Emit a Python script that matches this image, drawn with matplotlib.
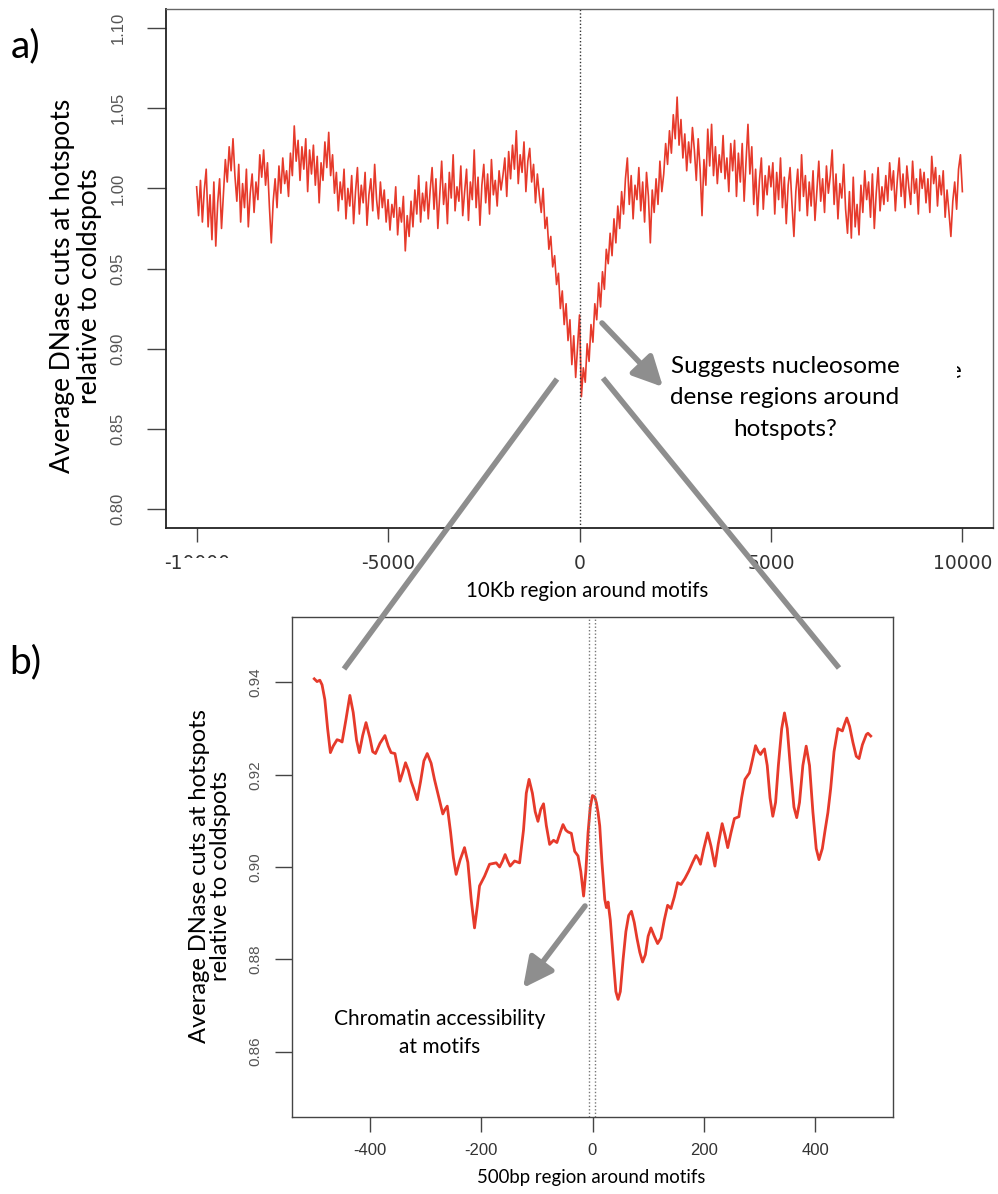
import matplotlib
matplotlib.use("Agg")
import matplotlib.pyplot as plt
from matplotlib.lines import Line2D
from matplotlib.patches import FancyArrowPatch, Rectangle
import numpy as np

# ---- panel a: 10Kb window, one value every 50bp ----
a_start, a_step = -10000, 50
a_values = [
    1.001, 0.983, 1.005, 0.979, 0.999, 1.012, 0.976, 0.996, 0.968, 1.004, 0.964, 0.991, 1.006, 0.975, 0.997, 1.018, 1.004, 1.026, 1.011, 1.031,
    1.008, 0.992, 1.015, 0.979, 1.003, 0.988, 1.012, 0.976, 0.997, 1.009, 0.985, 1.004, 0.993, 1.021, 1.007, 1.024, 1.002, 1.016, 0.989, 0.966,
    0.992, 1.006, 0.988, 1.014, 0.997, 1.019, 1.003, 1.011, 0.995, 1.022, 1.008, 1.039, 1.017, 1.030, 1.005, 1.026, 1.012, 1.031, 0.998, 1.024,
    1.009, 1.027, 1.002, 1.020, 0.991, 1.016, 1.005, 1.029, 1.013, 1.035, 1.008, 1.021, 0.997, 1.010, 0.986, 1.004, 0.993, 1.012, 0.981, 1.000,
    0.989, 1.008, 0.978, 0.998, 1.013, 0.984, 1.002, 0.991, 1.010, 0.977, 0.996, 1.006, 0.986, 1.015, 0.993, 0.981, 1.004, 0.988, 0.999, 0.979,
    0.993, 0.974, 0.990, 0.982, 1.001, 0.971, 0.988, 0.979, 0.995, 0.961, 0.983, 0.970, 0.992, 0.976, 0.999, 0.984, 1.008, 0.979, 0.997, 0.986,
    1.004, 0.981, 0.999, 1.013, 0.987, 1.006, 0.975, 0.996, 1.017, 0.990, 1.003, 0.978, 1.010, 0.994, 1.021, 0.986, 1.001, 0.992, 1.014, 0.983,
    0.998, 1.012, 0.980, 1.004, 0.993, 1.024, 0.988, 1.007, 0.977, 1.002, 1.015, 0.991, 1.009, 0.984, 1.018, 0.996, 1.005, 0.989, 1.011, 0.999,
    1.008, 1.019, 0.995, 1.023, 1.006, 1.027, 1.012, 1.036, 1.003, 1.021, 1.010, 1.029, 0.998, 1.017, 1.025, 1.004, 1.015, 0.991, 1.009, 0.996,
    0.985, 1.000, 0.975, 0.982, 0.962, 0.970, 0.951, 0.958, 0.940, 0.947, 0.925, 0.936, 0.915, 0.928, 0.905, 0.918, 0.890, 0.908, 0.882, 0.902,
    0.921, 0.870, 0.888, 0.879, 0.903, 0.892, 0.915, 0.904, 0.928, 0.918, 0.941, 0.926, 0.948, 0.937, 0.962, 0.953, 0.972, 0.958, 0.981, 0.966,
    0.989, 0.975, 0.998, 0.984, 1.006, 1.019, 0.990, 1.008, 0.981, 1.002, 0.993, 1.013, 0.986, 1.004, 0.979, 1.010, 0.995, 0.966, 0.999, 0.985,
    1.006, 0.990, 1.017, 0.998, 1.009, 1.028, 1.015, 1.036, 1.022, 1.046, 1.031, 1.057, 1.027, 1.043, 1.019, 1.034, 1.011, 1.029, 1.016, 1.038,
    1.024, 1.005, 1.031, 1.012, 0.983, 1.018, 1.002, 1.037, 1.014, 1.040, 1.008, 1.026, 1.003, 1.021, 1.010, 1.033, 1.006, 1.019, 0.998, 1.028,
    1.011, 1.030, 0.995, 1.022, 1.004, 1.028, 0.992, 1.017, 1.040, 1.009, 1.026, 0.990, 1.012, 0.983, 1.005, 1.019, 0.987, 1.008, 0.996, 1.014,
    1.001, 1.016, 0.984, 1.010, 0.993, 1.019, 0.988, 1.007, 0.978, 1.002, 1.013, 0.990, 0.970, 0.998, 1.012, 0.986, 1.021, 0.995, 1.008, 0.983,
    1.004, 0.989, 1.011, 0.980, 0.999, 1.017, 0.992, 1.006, 0.985, 1.014, 0.997, 1.008, 1.024, 0.990, 1.009, 0.981, 1.003, 0.994, 1.015, 0.987,
    0.972, 0.998, 0.969, 1.007, 0.976, 0.990, 0.971, 1.002, 0.985, 1.011, 0.993, 1.004, 0.982, 1.009, 0.975, 0.997, 1.013, 0.986, 1.001, 0.990,
    1.008, 0.992, 1.016, 0.999, 1.011, 0.986, 1.005, 1.019, 0.995, 1.009, 0.988, 1.014, 1.001, 0.990, 1.017, 0.997, 1.006, 0.984, 1.012, 1.000,
    1.010, 0.991, 1.006, 0.985, 1.020, 1.003, 1.013, 0.989, 1.008, 0.996, 1.011, 0.982, 0.999, 0.985, 0.970, 0.992, 1.004, 0.987, 1.012, 1.021,
    0.998,
]
a_pos = a_start + a_step * np.arange(len(a_values))

# ---- panel b: 500bp window ----
b_pos = [
    -500, -495, -490, -486, -481, -476, -471, -466, -459, -454, -450, -443, -436, -430, -424, -419,
    -413, -407, -400, -395, -390, -382, -373, -367, -362, -355, -350, -346, -341, -336, -331, -326,
    -320, -315, -309, -303, -297, -290, -284, -276, -269, -265, -261, -255, -250, -245, -238, -230,
    -224, -218, -212, -207, -203, -194, -185, -173, -167, -162, -157, -152, -148, -140, -131, -124,
    -119, -114, -108, -103, -98, -93, -88, -83, -77, -70, -64, -58, -53, -48, -44, -38,
    -32, -26, -21, -16, -12, -8, -4, 0, 4, 7, 10, 13, 17, 22, 25, 28,
    32, 38, 42, 46, 50, 55, 60, 65, 70, 75, 80, 85, 90, 95, 100, 105,
    111, 117, 123, 129, 135, 141, 147, 153, 159, 166, 173, 180, 186, 190, 194, 200,
    207, 213, 220, 226, 233, 238, 243, 249, 255, 263, 268, 274, 282, 287, 293, 298,
    302, 305, 309, 314, 319, 324, 329, 334, 340, 345, 350, 356, 362, 367, 372, 378,
    384, 390, 396, 402, 407, 413, 418, 423, 428, 434, 441, 449, 453, 457, 462, 468,
    474, 479, 485, 492, 495, 500,
]
b_values = [
    0.9408, 0.9402, 0.9405, 0.9395, 0.9363, 0.9300, 0.9248, 0.9262, 0.9276, 0.9274, 0.9271, 0.9320, 0.9372, 0.9335, 0.9275, 0.9248,
    0.9285, 0.9313, 0.9280, 0.9250, 0.9246, 0.9268, 0.9285, 0.9262, 0.9248, 0.9246, 0.9215, 0.9186, 0.9205, 0.9226, 0.9210, 0.9186,
    0.9165, 0.9146, 0.9185, 0.9230, 0.9246, 0.9225, 0.9190, 0.9150, 0.9115, 0.9125, 0.9132, 0.9075, 0.9020, 0.8984, 0.9015, 0.9042,
    0.9010, 0.8930, 0.8868, 0.8915, 0.8959, 0.8980, 0.9006, 0.9009, 0.9000, 0.9012, 0.9027, 0.9012, 0.9002, 0.9013, 0.9009, 0.9080,
    0.9160, 0.9190, 0.9160, 0.9120, 0.9099, 0.9125, 0.9137, 0.9090, 0.9049, 0.9058, 0.9053, 0.9075, 0.9092, 0.9080, 0.9076, 0.9073,
    0.9034, 0.9024, 0.8990, 0.8937, 0.8990, 0.9074, 0.9130, 0.9155, 0.9152, 0.9139, 0.9118, 0.9089, 0.9010, 0.8930, 0.8912, 0.8924,
    0.8885, 0.8790, 0.8730, 0.8713, 0.8730, 0.8800, 0.8860, 0.8895, 0.8904, 0.8880, 0.8845, 0.8815, 0.8794, 0.8810, 0.8850, 0.8868,
    0.8850, 0.8834, 0.8846, 0.8885, 0.8917, 0.8910, 0.8935, 0.8966, 0.8962, 0.8975, 0.8991, 0.9010, 0.9025, 0.9018, 0.9006, 0.9040,
    0.9074, 0.9045, 0.9002, 0.9050, 0.9094, 0.9070, 0.9042, 0.9075, 0.9105, 0.9109, 0.9150, 0.9190, 0.9204, 0.9230, 0.9263, 0.9250,
    0.9244, 0.9250, 0.9256, 0.9220, 0.9150, 0.9110, 0.9140, 0.9220, 0.9300, 0.9334, 0.9300, 0.9210, 0.9130, 0.9107, 0.9140, 0.9220,
    0.9262, 0.9220, 0.9120, 0.9040, 0.9016, 0.9040, 0.9080, 0.9118, 0.9170, 0.9250, 0.9300, 0.9295, 0.9310, 0.9323, 0.9305, 0.9270,
    0.9240, 0.9235, 0.9265, 0.9287, 0.9290, 0.9284,
]
motif_edges = [-6, 5]

a_xticks = [-10000, -5000, 0, 5000, 10000]
a_yticks = [0.80, 0.85, 0.90, 0.95, 1.00, 1.05, 1.10]
b_xticks = [-400, -200, 0, 200, 400]
b_yticks = [0.86, 0.88, 0.90, 0.92, 0.94]

RED = '#e63a2b'
GREY = '#8e8e8e'
SLIDE_FONT = ['Lato', 'DejaVu Sans']

W, H = 998, 1194
fig = plt.figure(figsize=(W / 100, H / 100), dpi=100)
fig.patch.set_facecolor('white')


def fx(x):
    return x / W


def fy(y):
    return 1 - y / H


def axes_box(l, t, r, b):
    return [fx(l), fy(b), (r - l) / W, (b - t) / H]


# ========= panel a
ax_a = fig.add_axes(axes_box(166, 9, 993, 528))
ax_a.plot(a_pos, a_values, color=RED, lw=1.2)
ax_a.axvline(0, color='#333333', lw=1, ls=(0, (1, 1.5)))
ax_a.set_xlim(-10800, 10800)
ax_a.set_ylim(0.788, 1.112)
ax_a.set_xticks(a_xticks)
ax_a.set_xticklabels([str(t) for t in a_xticks], fontsize=13.5, family='DejaVu Sans', color='#333333')
ax_a.set_yticks(a_yticks)
ax_a.set_yticklabels(['%.2f' % t for t in a_yticks], fontsize=12, family='Liberation Sans',
                     color='#555555', rotation=90, va='center')
ax_a.tick_params(axis='x', length=10, width=1, pad=9, color='#444444')
ax_a.tick_params(axis='y', length=14, width=1, pad=15, color='#444444')
for side in ['left', 'bottom']:
    ax_a.spines[side].set_color('#222222')
    ax_a.spines[side].set_linewidth(1.3)
for side in ['top', 'right']:
    ax_a.spines[side].set_color('#666666')
    ax_a.spines[side].set_linewidth(1)

# ========= panel b
ax_b = fig.add_axes(axes_box(292, 617, 893, 1117))
ax_b.plot(b_pos, b_values, color=RED, lw=2)
for e in motif_edges:
    ax_b.axvline(e, color='#777777', lw=1, ls=(0, (1, 1.5)))
ax_b.set_xlim(-540, 540)
ax_b.set_ylim(0.8458, 0.9542)
ax_b.set_xticks(b_xticks)
ax_b.set_xticklabels([str(t) for t in b_xticks], fontsize=12, family='Liberation Sans', color='#333333')
ax_b.set_yticks(b_yticks)
ax_b.set_yticklabels(['%.2f' % t for t in b_yticks], fontsize=11, family='Liberation Sans',
                     color='#555555', rotation=90, va='center')
ax_b.tick_params(axis='x', length=11, width=1, pad=8, color='#444444')
ax_b.tick_params(axis='y', length=12, width=1, pad=9, color='#444444')
for side in ax_b.spines:
    ax_b.spines[side].set_color('#444444')
    ax_b.spines[side].set_linewidth(1)

# ========= slide text
fig.text(fx(26), fy(46), 'a)', fontsize=28, family=SLIDE_FONT, ha='center', va='center')
fig.text(fx(25), fy(662), 'b)', fontsize=28, family=SLIDE_FONT, ha='center', va='center')

fig.text(fx(76), fy(286), 'Average DNase cuts at hotspots\nrelative to coldspots', fontsize=19,
         family=SLIDE_FONT, rotation=90, ha='center', va='center', multialignment='center',
         linespacing=1.05)
fig.text(fx(587), fy(591), '10Kb region around motifs', fontsize=14.8, family=SLIDE_FONT,
         ha='center', va='center')

fig.text(fx(210), fy(876), 'Average DNase cuts at hotspots\nrelative to coldspots', fontsize=17,
         family=SLIDE_FONT, rotation=90, ha='center', va='center', multialignment='center',
         linespacing=1.0)
fig.text(fx(591), fy(1178), '500bp region around motifs', fontsize=13.4, family=SLIDE_FONT,
         ha='center', va='center')

fig.text(fx(785), fy(398), 'Suggests nucleosome\ndense regions around\nhotspots?', fontsize=17.5,
         family=SLIDE_FONT, ha='center', va='center', multialignment='center', linespacing=1.6)
fig.text(fx(440), fy(1033), 'Chromatin accessibility\nat motifs', fontsize=15,
         family=SLIDE_FONT, ha='center', va='center', multialignment='center', linespacing=1.45)

# leftover bits of the slide: a hidden word and a box over the -10000 label
fig.text(fx(955), fy(372), 'e', fontsize=17.5, family=SLIDE_FONT, ha='center', va='center')
fig.add_artist(Rectangle((fx(930), fy(392)), 27 / W, 40 / H, transform=fig.transFigure,
                         facecolor='white', edgecolor='none', zorder=5))
fig.add_artist(Rectangle((fx(181), fy(572)), 56 / W, 14 / H, transform=fig.transFigure,
                         facecolor='white', edgecolor='none', zorder=5))

# ========= grey zoom lines and arrows
for (x0, y0), (x1, y1) in [((557, 379), (344, 669)), ((603, 378), (839, 668))]:
    fig.add_artist(Line2D([fx(x0), fx(x1)], [fy(y0), fy(y1)], transform=fig.transFigure,
                          color=GREY, lw=4, solid_capstyle='butt', zorder=6))

for (x0, y0), (x1, y1) in [((602, 323), (663, 387)), ((585, 906), (523, 988))]:
    fig.add_artist(FancyArrowPatch((fx(x0), fy(y0)), (fx(x1), fy(y1)), transform=fig.transFigure,
                                   arrowstyle='-|>,head_length=1.0,head_width=0.5', mutation_scale=18,
                                   color=GREY, lw=4, shrinkA=0, shrinkB=0, zorder=6))

fig.savefig('out.png', dpi=100)
